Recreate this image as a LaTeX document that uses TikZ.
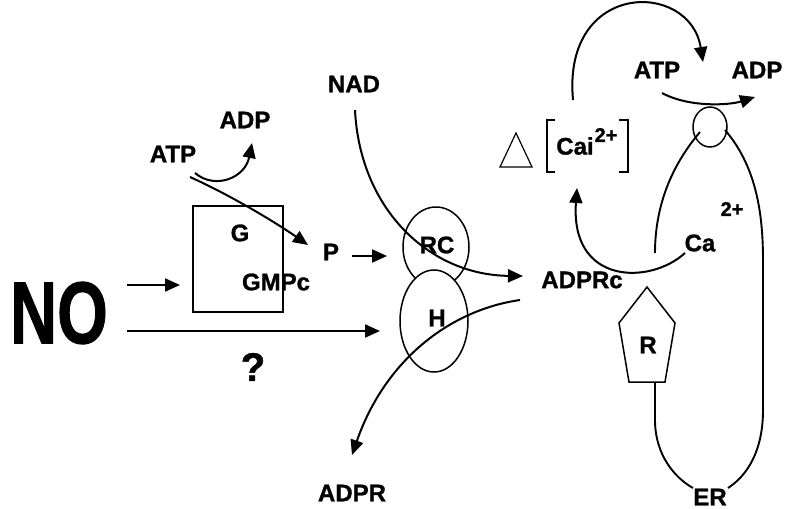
\documentclass[tikz,border=0pt]{standalone}
\usepackage{fontspec}
\setmainfont{Liberation Sans}[BoldFeatures={FakeBold=1.2}]
\usepackage{graphicx}
\usetikzlibrary{arrows.meta,shapes.geometric}
\begin{document}
\begin{tikzpicture}[x=1pt,y=-1pt,
  lbl/.style={font=\fontsize{24}{24}\selectfont\bfseries, inner sep=0pt},
  sup/.style={font=\fontsize{20}{20}\selectfont\bfseries, inner sep=0pt},
  conn/.style={line width=2pt, -{Triangle[length=15pt,width=13pt]}},
  plain/.style={line width=1.9pt},
  outline/.style={line width=1.5pt},
  blob/.style={draw, ellipse, outline, fill=white, inner sep=0pt}]
\useasboundingbox (0,0) rectangle (785,509);

% --- labels ---
\node[inner sep=0pt] (no) at (59,313)
  {\scalebox{0.74}[1]{\fontsize{88}{88}\selectfont\bfseries NO}};
\node[inner sep=0pt, font=\fontsize{40}{40}\selectfont\bfseries] (q) at (253,367) {?};
\node[lbl] (atpA) at (173,154) {ATP};
\node[lbl] (adpA) at (245,120) {ADP};
\node[lbl] (nad) at (354,84) {NAD};
\node[lbl] (p) at (331,252) {P};
\node[lbl] (adprc) at (582,280) {ADPRc};
\node[lbl] (adpr) at (352,493) {ADPR};
\node[lbl] (atpB) at (657,70) {ATP};
\node[lbl] (adpB) at (757,70) {ADP};
\node[lbl] (cai) at (575,146) {Cai};
\node[sup] (caisup) at (606,135) {2+};
\node[lbl] (ca) at (700,243) {Ca};
\node[sup] (casup) at (732,209) {2+};
\node[lbl] (er) at (710,497) {ER};

% --- guanylate cyclase box ---
\node[draw, outline, minimum width=90pt, minimum height=106pt, inner sep=0pt] (gbox) at (238,259) {};
\node[lbl] (g) at (240,233) {G};
\node[lbl] (gmpc) at (276,282) {GMPc};

% --- ribosyl cyclase / hydrolase ---
\node[blob, minimum width=66pt, minimum height=80pt] (rc) at (436,247) {};
\node[blob, minimum width=68pt, minimum height=102pt] (h) at (434,321) {};
\node[lbl] (rct) at (437,245) {RC};
\node[lbl] (ht) at (437,318) {H};

% --- pump on the ER ---
\node[draw, ellipse, outline, inner sep=0pt, minimum width=34pt, minimum height=40pt] (pump) at (710,127) {};

% --- receptor ---
\draw[outline] (647,287) -- (675,323) -- (665,382) -- (629,382) -- (619,323) -- cycle;
\node[lbl] (r) at (648,345) {R};

% --- delta [Cai2+] ---
\draw[line width=1.2pt] (500,167) -- (516,133) -- (532,167) -- cycle;
\draw[line width=1.2pt] (555,120) -- (547,120) -- (547,172) -- (555,172);
\draw[line width=1.2pt] (619,120) -- (628,120) -- (628,172) -- (619,172);

% --- endpoints of connectors ---
\coordinate (noA) at (127,285);
\coordinate (noAend) at (180,285);
\coordinate (noB) at (127,331);
\coordinate (noBend) at (380,331);
\coordinate (atpAout) at (195,173);
\coordinate (adpAin) at (252,143);
\coordinate (atpAline) at (190,177);
\coordinate (pin) at (308,245);
\coordinate (pout) at (352,256);
\coordinate (rcin) at (387,256);
\coordinate (nadout) at (355,110);
\coordinate (adprcin) at (523,276);
\coordinate (adprcout) at (520,300);
\coordinate (adprin) at (352,455);
\coordinate (caiout) at (573,100);
\coordinate (atpBin) at (703,62);
\coordinate (atpBout) at (662,93);
\coordinate (adpBin) at (755,97);
\coordinate (caout) at (685,253);
\coordinate (caiin) at (577,188);
\coordinate (pumpL) at (700,132);
\coordinate (pumpR) at (725,130);
\coordinate (erL) at (655,253);
\coordinate (rfoot) at (655,382);
\coordinate (erBL) at (693,488);
\coordinate (erBR) at (728,488);

% --- connectors ---
\draw[conn] (noA) -- (noAend);
\draw[conn] (noB) -- (noBend);
\draw[conn] (atpAout) .. controls (215,190) and (245,178) .. (adpAin);
\draw[conn] (atpAline) .. controls (230,195) and (275,222) .. (pin);
\draw[conn] (pout) -- (rcin);
\draw[conn] (nadout) .. controls (360,210) and (430,275) .. (adprcin);
\draw[conn] (adprcout) .. controls (450,310) and (385,360) .. (adprin);
\draw[conn] (caiout) .. controls (562,-20) and (690,-20) .. (atpBin);
\draw[conn] (atpBout) .. controls (690,108) and (730,105) .. (adpBin);
\draw[conn] (caout) .. controls (650,285) and (570,285) .. (caiin);

% --- ER membrane ---
\draw[plain] (pumpL) .. controls (672,165) and (655,205) .. (erL);
\draw[plain] (pumpR) .. controls (755,165) and (763,210) .. (763,260)
  -- (763,410) .. controls (763,450) and (748,475) .. (erBR);
\draw[plain] (rfoot) -- (655,420) .. controls (655,455) and (675,478) .. (erBL);
\end{tikzpicture}
\end{document}
